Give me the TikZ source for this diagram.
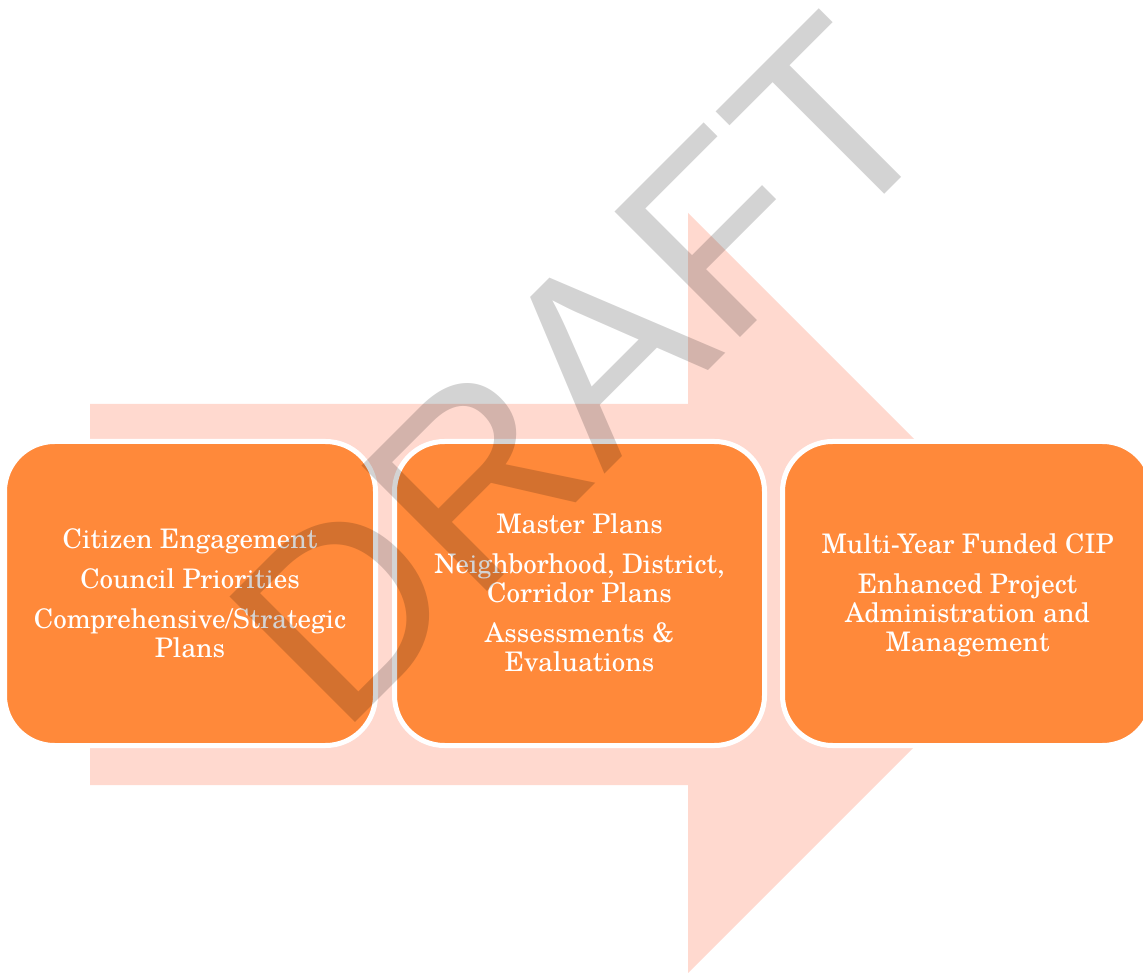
\documentclass[tikz,border=0pt]{standalone}
\usepackage{fontspec}
\setmainfont{texgyreschola-regular.otf}
\newfontfamily\wmfont{Liberation Sans}
\definecolor{arrowpink}{RGB}{255,217,207}
\definecolor{boxorange}{RGB}{255,137,58}
\definecolor{wmgray}{RGB}{211,211,211}
\tikzset{
  stagebox/.style={fill=boxorange, draw=white, line width=3.75pt, rounded corners=37.5pt},
  txt/.style={anchor=base, text=white, inner sep=0pt, font=\fontsize{20.2}{24}\selectfont},
  wm/.style={text=wmgray, inner sep=0pt, anchor=center, font=\wmfont\fontsize{193.5}{193.5}\selectfont}
}
\begin{document}
\begin{tikzpicture}[x=0.75pt, y=-0.75pt]
\useasboundingbox (0,0) rectangle (1143,973);
% big background arrow
\fill[arrowpink] (90,404) -- (688,404) -- (688,213) -- (1068,593) -- (688,973) -- (688,785) -- (90,785) -- cycle;
% boxes
\draw[stagebox] (4.5,441.5) rectangle (375.5,745.5);
\draw[stagebox] (394.5,441.5) rectangle (764.5,745.5);
\draw[stagebox] (782.5,441.5) rectangle (1152.5,745.5);
% box 1 text
\node[txt] (a1) at (190,548) {Citizen Engagement};
\node[txt] (a2) at (190,588) {Council Priorities};
\node[txt] (a3) at (190,628) {Comprehensive/Strategic};
\node[txt] (a4) at (190,657) {Plans};
% box 2 text
\node[txt] (b1) at (579.5,533) {Master Plans};
\node[txt] (b2) at (579.5,573) {Neighborhood, District,};
\node[txt] (b3) at (579.5,602) {Corridor Plans};
\node[txt] (b4) at (579.5,642) {Assessments \&};
\node[txt] (b5) at (579.5,671) {Evaluations};
% box 3 text
\node[txt] (c1) at (967.5,553) {Multi-Year Funded CIP};
\node[txt] (c2) at (967.5,593) {Enhanced Project};
\node[txt] (c3) at (967.5,622) {Administration and};
\node[txt] (c4) at (967.5,651) {Management};
% watermark
\begin{scope}[blend mode=multiply]
\node[wm, rotate=45] (wmark) at (582,371) {DRAFT};
\end{scope}
\end{tikzpicture}
\end{document}
